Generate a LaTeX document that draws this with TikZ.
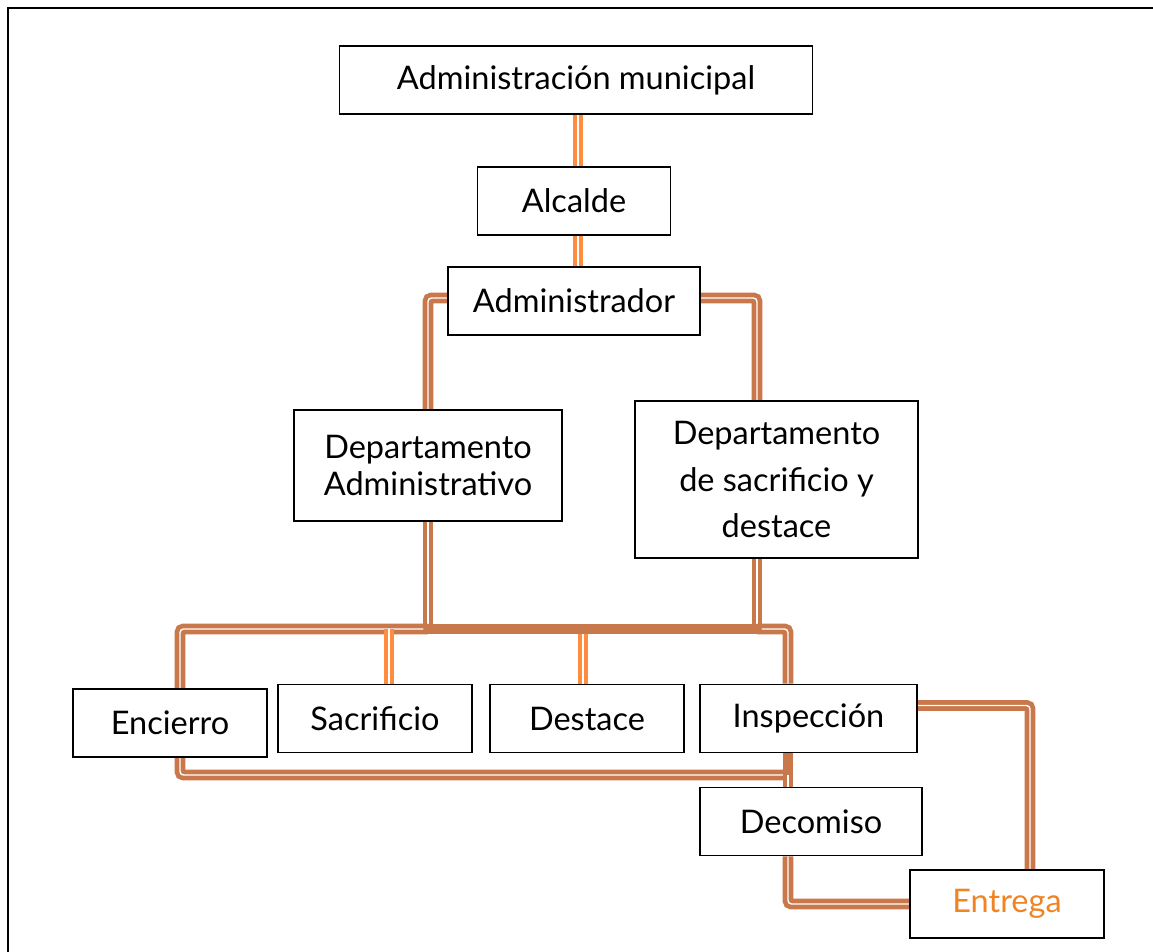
\documentclass[tikz,border=0pt]{standalone}
\usepackage{fontspec}
\setmainfont{Lato}
\usepackage{xcolor}
\usetikzlibrary{positioning,backgrounds,calc}

\definecolor{linkbrown}{HTML}{C8784A}
\definecolor{linkorange}{HTML}{FF8C3F}
\definecolor{textorange}{HTML}{F08423}

\begin{document}
\begin{tikzpicture}[
    x=0.02cm, y=-0.02cm,
    unit/.style={rectangle, draw, fill=white, line width=0.9pt, minimum height=1.36cm, align=center, font=\fontsize{18.5}{22}\selectfont},
    blink/.style={draw=linkbrown, double=white, line width=2.7pt, double distance=0.8pt, rounded corners=2pt},
    olink/.style={draw=linkorange, double=white, line width=2.7pt, double distance=0.6pt},
    bus/.style={draw=linkbrown, line width=5.5pt, line cap=round}
]
\useasboundingbox (0,0) rectangle (1153,952);

% units
\node[unit, minimum width=9.46cm] (muni) at (576,80) {Administración municipal};
\node[unit, minimum width=3.86cm] (alcalde) at (574,201) {Alcalde};
\node[unit, minimum width=5.04cm] (admin) at (574,301) {Administrador};
\node[unit, minimum width=5.36cm, minimum height=2.22cm, font=\fontsize{18.5}{21.5}\selectfont] (depadm) at (428,465.5) {Departamento\\Administrativo};
\node[unit, minimum width=5.66cm, minimum height=3.14cm, font=\fontsize{18.5}{26.5}\selectfont] (depsac) at (776.5,479.5) {Departamento\\de sacrificio y\\destace};
\node[unit, minimum width=3.88cm] (encierro) at (170,723) {Encierro};
\node[unit, minimum width=3.88cm] (sacrificio) at (375,718.5) {Sacrificio};
\node[unit, minimum width=3.88cm] (destace) at (587,718.5) {Destace};
\node[unit, minimum width=4.34cm] (inspeccion) at (808.5,718.5) {Inspección};
\node[unit, minimum width=4.44cm] (decomiso) at (811,821.5) {Decomiso};
\node[unit, minimum width=3.88cm, text=textorange] (entrega) at (1007,904) {Entrega};

% junctions
\coordinate (busL) at (428,629);
\coordinate (busR) at (757,629);
\coordinate (tapS) at (389,629);
\coordinate (tapD) at (583,629);
\coordinate (loopL) at (180,775);
\coordinate (jn) at (788,775);

\begin{scope}[on background layer]
\draw[line width=1.2pt] (8,8) rectangle (1170,970);

\draw[olink] (alcalde.north -| 578,0) -- (muni.south -| 578,0);
\draw[olink] (alcalde.south -| 578,0) -- (admin.north -| 578,0);

\draw[blink] ([yshift=0.06cm]admin.west) -| (depadm.north);
\draw[blink] ([yshift=0.06cm]admin.east) -| (depsac.north -| busR);
\draw[blink] (depadm.south) -- (busL);
\draw[blink] (depsac.south -| busR) -- (busR);

\draw[blink] (busL) -| (loopL) -- (jn);
\draw[blink] (busR) -| (jn |- inspeccion.north);
\draw[bus] (jn |- inspeccion.south) -- (jn);
\draw[blink] (jn) -- (jn |- decomiso.north);
\draw[blink] (jn |- decomiso.south) |- (entrega.west);
\draw[blink] ([yshift=0.26cm]inspeccion.east) -| ([xshift=0.46cm]entrega.north);

\draw[olink] (tapS) -- (tapS |- sacrificio.north);
\draw[olink] (tapD) -- (tapD |- destace.north);

\draw[bus] (busL) -- (busR);
\end{scope}

\end{tikzpicture}
\end{document}
